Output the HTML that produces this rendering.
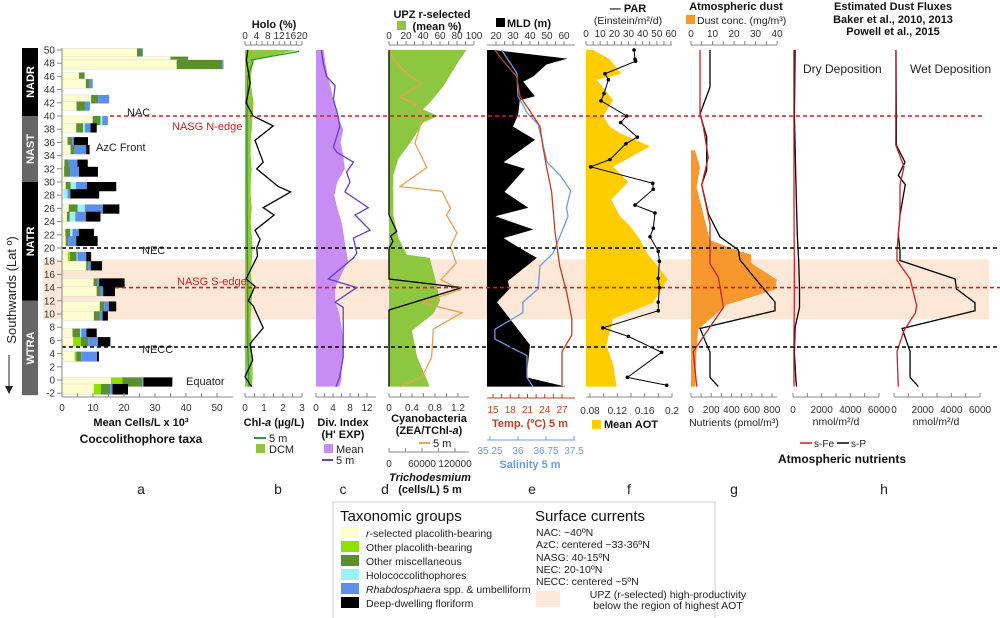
<!DOCTYPE html>
<html><head><meta charset="utf-8"><style>
body{margin:0;background:#fff}
svg{display:block;font-family:"Liberation Sans",sans-serif}
.t{font-size:10px;fill:#222}
.b{font-weight:bold;font-size:11px;fill:#111}
</style></head><body>
<svg id="fig" width="1000" height="618" viewBox="0 0 1000 618">
<g id="bg"></g>
<g id="marks"></g>
<g id="axes"></g>
<g id="labels">
<text class="b" x="274" y="28" text-anchor="middle">Holo (%)</text>
<text class="b" x="432" y="18" text-anchor="middle">UPZ r-selected</text>
<rect x="397" y="21" width="9" height="9" fill="#8dc63f"/>
<text class="b" x="437" y="30" text-anchor="middle">(mean %)</text>
<rect x="496" y="18" width="9" height="9" fill="#000"/>
<text class="b" x="507" y="27">MLD (m)</text>
<text class="b" x="628" y="12" text-anchor="middle">— PAR</text>
<text class="t" x="628" y="24" text-anchor="middle" style="font-size:10.5px">(Einstein/m²/d)</text>
<text class="b" x="736" y="10" text-anchor="middle">Atmospheric dust</text>
<rect x="686" y="15" width="9" height="9" fill="#f7982f"/>
<text class="t" x="697" y="24" style="font-size:10.5px">Dust conc. (mg/m³)</text>
<text class="b" x="893" y="10" text-anchor="middle">Estimated Dust Fluxes</text>
<text class="b" x="893" y="23" text-anchor="middle">Baker et al., 2010, 2013</text>
<text class="b" x="893" y="35" text-anchor="middle">Powell et al., 2015</text>
<text class="t" x="803" y="73" style="font-size:12px">Dry Deposition</text>
<text class="t" x="910" y="73" style="font-size:12px">Wet Deposition</text>
<text class="t" x="127" y="116" style="font-size:11px">NAC</text>
<text x="172" y="130" fill="#d02020" style="font-size:11px">NASG N-edge</text>
<text class="t" x="96" y="151" style="font-size:11px">AzC Front</text>
<text class="t" x="142" y="254" style="font-size:11px">NEC</text>
<text x="177" y="285" fill="#d02020" style="font-size:11px">NASG S-edge</text>
<text class="t" x="142" y="353" style="font-size:11px">NECC</text>
<text class="t" x="186" y="385" style="font-size:11px">Equator</text>
<text class="t" x="16" y="290" transform="rotate(-90 16 290)" text-anchor="middle" style="font-size:13px">Southwards (Lat º)</text>
<line x1="9" y1="355" x2="9" y2="390" stroke="#222"/>
<path d="M5,386 L9,394 L13,386 Z" fill="#222"/>
<text class="b" x="141" y="426" text-anchor="middle">Mean Cells/L x 10³</text>
<text class="b" x="141" y="443" text-anchor="middle" style="font-size:12px">Coccolithophore taxa</text>
<text class="b" x="274" y="426" text-anchor="middle">Chl-<tspan font-style="italic">a</tspan> (µg/L)</text>
<line x1="254" y1="438" x2="266" y2="438" stroke="#2a9a3a" stroke-width="2"/>
<text class="t" x="269" y="442" style="font-size:11px">5 m</text>
<rect x="256" y="444" width="9" height="9" fill="#8dc63f"/>
<text class="t" x="269" y="453" style="font-size:11px">DCM</text>
<text class="b" x="343" y="426" text-anchor="middle">Div. Index</text>
<text class="b" x="343" y="438" text-anchor="middle">(H' EXP)</text>
<rect x="324" y="444" width="9" height="9" fill="#c88cf5"/>
<text class="t" x="336" y="453" style="font-size:11px">Mean</text>
<line x1="322" y1="460" x2="333" y2="460" stroke="#6040d0" stroke-width="2"/>
<text class="t" x="336" y="464" style="font-size:11px">5 m</text>
<text class="b" x="429" y="422" text-anchor="middle">Cyanobacteria</text>
<text class="b" x="429" y="434" text-anchor="middle">(ZEA/TChl-<tspan font-style="italic">a</tspan>)</text>
<line x1="419" y1="443" x2="430" y2="443" stroke="#e0a860" stroke-width="2"/>
<text class="t" x="433" y="447" style="font-size:11px">5 m</text>
<text class="b" x="430" y="481" text-anchor="middle" font-style="italic">Trichodesmium</text>
<text class="b" x="430" y="493" text-anchor="middle">(cells/L) 5 m</text>
<text x="530" y="427" text-anchor="middle" fill="#c0401e" font-weight="bold" style="font-size:11px">Temp. (ºC) 5 m</text>
<text x="530" y="468" text-anchor="middle" fill="#6b9be0" font-weight="bold" style="font-size:11px">Salinity 5 m</text>
<rect x="592" y="420" width="9" height="9" fill="#ffcc00"/>
<text class="b" x="604" y="428">Mean AOT</text>
<text class="t" x="734" y="426" text-anchor="middle" style="font-size:10.5px">Nutrients (pmol/m³)</text>
<text class="t" x="836" y="425" text-anchor="middle" style="font-size:10.5px">nmol/m²/d</text>
<text class="t" x="936" y="425" text-anchor="middle" style="font-size:10.5px">nmol/m²/d</text>
<line x1="800" y1="443" x2="812" y2="443" stroke="#d02020" stroke-width="1.5"/>
<text class="t" x="814" y="447">s-Fe</text>
<line x1="837" y1="443" x2="849" y2="443" stroke="#000" stroke-width="1.5"/>
<text class="t" x="851" y="447">s-P</text>
<text class="b" x="842" y="463" text-anchor="middle" style="font-size:12px">Atmospheric nutrients</text>
<g style="font-size:14px" fill="#222">
<text x="141" y="494" text-anchor="middle">a</text>
<text x="278" y="494" text-anchor="middle">b</text>
<text x="343" y="494" text-anchor="middle">c</text>
<text x="385" y="494" text-anchor="middle">d</text>
<text x="532" y="494" text-anchor="middle">e</text>
<text x="629" y="494" text-anchor="middle">f</text>
<text x="734" y="494" text-anchor="middle">g</text>
<text x="884" y="494" text-anchor="middle">h</text>
</g>
<g>
<rect x="333" y="502" width="382" height="118" fill="#fff" stroke="#ccc"/>
<text x="340" y="521" style="font-size:15px" fill="#111">Taxonomic groups</text>
<text x="535" y="521" style="font-size:15px" fill="#111">Surface currents</text>
<g style="font-size:10.5px" fill="#222">
<rect x="341" y="527" width="18" height="11" fill="#fdfdcf"/>
<text x="366" y="537"><tspan font-style="italic">r</tspan>-selected placolith-bearing</text>
<rect x="341" y="541" width="18" height="11" fill="#8ee000"/>
<text x="366" y="551">Other placolith-bearing</text>
<rect x="341" y="555" width="18" height="11" fill="#5b8f2e"/>
<text x="366" y="565">Other miscellaneous</text>
<rect x="341" y="569" width="18" height="11" fill="#99f0f5"/>
<text x="366" y="579">Holococcolithophores</text>
<rect x="341" y="583" width="18" height="11" fill="#5b8fe8"/>
<text x="366" y="593"><tspan font-style="italic">Rhabdosphaera</tspan> spp. &amp; umbelliform</text>
<rect x="341" y="597" width="18" height="11" fill="#000"/>
<text x="366" y="607">Deep-dwelling floriform</text>
</g>
<g style="font-size:10.5px" fill="#222">
<text x="536" y="536">NAC: ~40ºN</text>
<text x="536" y="548">AzC: centered ~33-36ºN</text>
<text x="536" y="561">NASG: 40-15ºN</text>
<text x="536" y="573">NEC: 20-10ºN</text>
<text x="536" y="585">NECC: centered ~5ºN</text>
<rect x="536" y="591" width="24" height="16" fill="#fde8d8"/>
<text x="668" y="598" text-anchor="middle">UPZ (r-selected) high-productivity</text>
<text x="668" y="609" text-anchor="middle">below the region of highest AOT</text>
</g>
</g>
</g>
</svg>
<script>
// ---------- data ----------
const latTicks=[50,48,46,44,42,40,38,36,34,32,30,28,26,24,22,20,18,16,14,12,10,8,6,4,2,0,-2];
// panel a: stacked bars, cumulative edges (x10^3 cells/L)
const barLatTop=[50.25,49,48.5,46.6,45.6,43.2,42.2,40.0,38.9,36.8,35.6,33.4,32.3,30.0,28.9,26.6,25.5,22.9,21.8,19.4,18.0,15.4,14.2,11.9,10.4,7.8,6.5,4.3,0.4,-0.6];
const barLatBot=[48.9,48.5,47.1,45.4,44.2,41.9,40.8,38.6,37.5,35.4,34.2,32.0,30.8,28.6,27.5,25.2,24.0,21.6,20.3,17.9,16.6,14.0,12.7,10.4,9.0,6.4,5.1,2.8,-1.0,-2.2];
const rSel=[24.2,35,37,5.5,7.7,9.4,4.7,9.9,4.6,1.8,2.8,0.8,0.7,1.2,0.5,2.2,1.6,1.1,1.2,1.9,7.8,10.2,11.2,12.2,10.3,3.4,3.6,4.1,15.8,10.3];
const otherPlac=[24.2,35,37,5.5,7.7,9.4,4.7,9.9,4.6,1.8,2.8,0.8,0.7,1.2,0.5,2.2,1.6,1.1,1.2,2.6,7.8,10.2,11.2,12.2,10.3,3.4,6.1,4.6,19.5,12.5];
const miscCum=[25.8,40.7,51.7,7.3,8.9,11.7,7.4,12.4,6.8,3.3,4.0,2.1,2.6,2.8,0.5,5.0,2.5,2.6,2.0,4.7,8.5,11.5,12.4,13.6,12.1,5.8,8.5,6.2,25.9,15.5];
const holoCum=[25.8,40.7,51.7,7.3,8.9,11.7,7.4,13.0,7.4,3.3,4.0,2.1,2.6,4.5,1.8,7.4,4.3,3.4,2.0,5.0,8.5,11.5,12.4,13.6,12.1,6.2,8.5,6.2,25.9,15.5];
const rhabCum=[26.1,40.7,52.1,7.3,9.9,15.2,9.0,14.8,9.2,3.8,7.8,5.0,5.5,8.0,2.7,13.2,7.7,5.4,4.6,7.8,9.3,12.0,13.3,15.1,13.1,7.9,11.6,11.3,26.3,16.3];
const deepCum=[26.1,40.7,52.1,7.3,9.9,15.2,9.0,14.8,11.2,8.4,8.9,8.3,11.6,17.5,12.0,18.5,12.4,10.3,11.5,9.4,12.9,20.2,17.1,17.5,14.8,11.2,15.6,11.9,35.6,21.3];
// panel b
const holoLat=[50,48.5,45,42,40,38.5,36.3,33,32,29.3,28.5,26.1,25,22.7,21.3,20,18.8,15.3,14.2,12,11.2,7.9,5.5,3,0.5,-1];
const holoPct=[1,0.5,1.8,0.4,2.9,9.9,3.5,6.4,4.1,11.7,16,6.4,10.2,3.5,5.3,4.1,4.4,0.4,3.5,1.2,2.9,6.4,1.8,2.7,0,2.3];
const dcmLat=[50,48.5,47,45,43,42,40,38,36,34,32,30,28,26,24,22,20,18,16,14,12,10,8,6,4,2,0,-1];
const dcmChl=[2.7,0.5,0.35,0.3,0.4,0.45,0.4,0.35,0.3,0.3,0.35,0.3,0.3,0.35,0.3,0.35,0.4,0.35,0.3,0.4,0.35,0.3,0.3,0.35,0.35,0.4,0.4,0.35];
const chlLat=[49.8,48.5,48,46,40,30,20,10,5,0,-1];
const chl5m=[2.85,0.35,0.4,0.15,0.1,0.1,0.12,0.15,0.15,0.2,0.2];
// panel c
const divMeanLat=[50,48,46,44,42,40,38,36,34,32,30,28,26,24,22,20,18,16,14,12,10,8,6,4,2,0,-1];
const divMean=[1.8,2.2,2.8,3.6,4.2,5.0,6.4,5.8,6.4,6.8,5.0,4.3,5.0,6.0,6.5,7.0,7.5,6.0,4.5,4.5,5.5,6.0,6.4,6.4,6.0,6.0,5.5];
const div5Lat=[50,48,46,44.6,42.5,40,38.4,35.3,34.5,33,31.5,30,28.5,26.1,25,22.7,21.5,19.2,18.5,15.3,14,11.8,11,7.5,3.5,0.5,-1];
const div5m=[1.3,1.7,2.5,4.5,4.1,5.2,5.6,4.1,4.9,8.8,7.2,8.0,6.8,12.3,9.2,12.7,8.8,9.6,8.8,2.9,9.6,4.5,6.4,6.4,6.4,5.6,4.7];
// panel d
const upzLat=[50,48.5,46,44.5,42,41,40,39,36.5,33.5,31,25,21.5,19,18.5,15.5,12,10,7.5,3.5,-1];
const upzPct=[91,83,71,64,48,40,58,40,28,11,5,5,11,21,48,54,60,52,27,33,48];
const cyanoLat=[50,48.5,46.4,44.9,42.9,42,40.3,38.4,35.9,32.2,29.3,28.6,26,25,22.3,20.2,17.7,15.2,13.7,11.7,10.2,7.7,3.4,0.4,-1];
const cyano=[0.02,0.08,0.31,0.57,0.19,0.43,0.6,0.54,0.45,0.66,0.19,0.92,1.07,1.0,1.18,1.07,1.17,0.9,1.24,0.57,1.27,0.77,0.74,0.57,0.19];
const trichLat=[50,25,22.5,21.8,21,20,15.3,14,10.6,-1];
const trich=[0,0,14000,3000,7000,0,0,132000,0,0];
// panel e
const mldLat=[50,48.7,47.8,46,45.2,43,42.4,40.2,38.4,36.4,33,32,28.5,26.1,24.8,22.8,21.5,20.3,18.5,15,13.8,11.8,8,5.3,0.4,-1];
const mld=[18.6,62,49.7,42,36,42.9,34,33,30,43,24.5,37,25,39,19.6,42,24.5,32,44,27,28,20.6,32,40,38,61];
const tempLat=[50,47.8,46,43,40,38.4,35.3,32.3,28.5,22.3,17.3,13.3,9.3,6.8,4.3,-1];
const temp=[15.3,17.3,19.1,19.7,22,23.2,23.7,24.3,25.2,25.8,26.6,27.8,28.7,28.7,27,27];
const salLat=[50,46.5,43,40.5,38.7,33,31,28.7,26.1,24.8,19.2,17.3,13.8,11.8,10.2,7.7,6.2,3.7,0.4,-1];
const sal=[35.56,35.97,36.0,36.24,36.54,36.78,37.13,37.41,37.30,37.34,36.94,36.59,36.54,36.13,36.13,35.38,35.38,36.24,36.24,36.4];
// panel f
const aotLat=[50,48.6,46.4,45.5,42.4,40,38.4,37.4,35.4,32.3,30,27.3,24.8,23.3,21.3,19.3,17.3,15.3,11.7,9.3,5.3,2.3,-1];
const aot=[0.085,0.109,0.126,0.090,0.114,0.099,0.109,0.124,0.168,0.114,0.136,0.111,0.124,0.139,0.153,0.163,0.178,0.194,0.172,0.114,0.104,0.114,0.119];
const parLat=[50,48.6,48.3,46.4,45.5,43.4,42.3,40,39,36.8,35.8,33.4,32.3,29.8,28.9,26.5,25.3,23,21.7,19.5,18,15.4,14,11.8,10.5,7.9,6.6,4.2,0.4,-0.8];
const par=[33.9,34.6,35,13.4,15.8,12.7,10.6,28.7,24.5,36.2,28.2,16.9,3.3,47.1,47.5,34.6,48.7,47.5,45.2,51,51.8,51,51.8,51,51,11.8,29.9,53.4,29.2,57];
// panel g
const dustLat=[34.8,32.2,29.2,25.2,21.2,19.7,19,17.7,15.2,13.7,11.4,9.2,7.7,4.7,-0.3,-1];
const dust=[1.9,4.2,2.6,5.7,8.8,21,28,28,39.9,39,16.6,8.8,3.4,2.6,2,2];
const nutFeLat=[50,40.3,38.3,33.7,29.6,23.6,17.6,15.6,11,7.3,4.3,-1];
const nutFe=[89,89,122,171,106,188,188,270,320,155,23,56];
const nutPLat=[50,44.4,40.3,36.8,31.8,29.6,25.2,21.7,19.7,18.2,15.4,11.8,10.5,7.8,4.2,0.4,-1];
const nutP=[188,188,89,155,155,106,171,286,467,484,632,830,830,89,188,188,270];
// panel h
const dryLat=[50,40,30,22,18,14,11,8,4,0,-1];
const dryP=[150,100,200,300,400,450,450,150,100,200,250];
const dryFe=[60,60,70,80,90,90,90,70,60,70,80];
const wetPLat=[50,40,35.6,33,31,29.6,25,22,19.6,18.1,15.3,13.8,11.7,10.5,7.8,4.3,0.4,-1];
const wetP=[140,160,160,770,300,790,420,300,420,420,4260,4350,5650,5650,566,1120,1120,1700];
const wetFeLat=[50,35.6,32.3,29.6,25,19.7,18.1,15.3,11.3,10.2,7.5,4.3,-1];
const wetFe=[130,120,700,420,420,210,210,1120,1580,1500,700,210,300];
// tick labels
const aTicks=[0,10,20,30,40,50], chlTicks=[0,1,2,3], holoTicks=[0,4,8,12,16,20], divTicks=[0,4,8,12];
const cyTicks=[0,0.4,0.8,1.2], trTicks=[0,60000,120000], upzTicks=[0,20,40,60,80,100];
const mldTicks=[20,30,40,50,60], tempTicks=[15,18,21,24,27], salTicks=[35.25,36,36.75,37.5];
const parTicks=[0,10,20,30,40,50,60], aotTicks=[0.08,0.12,0.16,0.2], dustTicks=[0,10,20,30,40];
const nutTicks=[0,200,400,600,800], fluxTicks=[0,2000,4000,6000];

// ---------- scales ----------
const NS='http://www.w3.org/2000/svg';
const Y=l=>50+(50-l)*6.6;
const lin=(d0,d1,r0,r1)=>v=>r0+(v-d0)/(d1-d0)*(r1-r0);
const xA=lin(0,50,62,217), xChl=lin(0,3,245,302), xHolo=lin(0,20,245,302), xDiv=lin(0,12,316,367);
const xUpz=lin(0,100,389,474), xCy=lin(0,1.2,389,458), xTr=lin(0,120000,389,455);
const xMld=lin(20,60,496,564), xT=lin(15,27,493,562), xS=lin(35.25,37.5,490,574);
const xPar=lin(0,60,586,671), xAot=lin(0.08,0.2,590,672), xDust=lin(0,40,691,777), xNut=lin(0,800,691,772);
const xDry=lin(0,6000,793,879), xWet=lin(0,6000,894,980);
function mk(tag,attrs,parent){const e=document.createElementNS(NS,tag);for(const k in attrs)e.setAttribute(k,attrs[k]);document.getElementById(parent).appendChild(e);return e;}
function lineD(lats,vals,sx){return lats.map((l,i)=>(i?'L':'M')+sx(vals[i]).toFixed(1)+','+Y(l).toFixed(1)).join('');}
function areaD(lats,vals,sx,x0){return 'M'+x0+','+Y(lats[0]).toFixed(1)+lats.map((l,i)=>'L'+sx(vals[i]).toFixed(1)+','+Y(l).toFixed(1)).join('')+'L'+x0+','+Y(lats[lats.length-1]).toFixed(1)+'Z';}

// ---------- background ----------
let e=mk('rect',{x:43,y:Y(18.3),width:946,height:Y(9.2)-Y(18.3),fill:'#fde8d8'},'bg');


const regions=[['NADR',50.3,40,'#000'],['NAST',40,30,'#666'],['NATR',30,12,'#000'],['WTRA',12,-2.3,'#666']];
regions.forEach(r=>{
 const y0=Y(r[1]),y1=Y(r[2]);
 e=mk('rect',{x:22,y:y0,width:16,height:y1-y0,fill:r[3]},'bg');
 
 
 const cy=(y0+y1)/2;
 e=mk('text',{x:30,y:cy+4,transform:'rotate(-90 30 '+cy+')','text-anchor':'middle',fill:'#fff','font-weight':'bold','font-size':'11'},'bg');
 e.textContent=r[0];
 
 
});

// ---------- panel a bars ----------
const segs=[[rSel,'#fdfdcf'],[otherPlac,'#8ee000'],[miscCum,'#5b8f2e'],[holoCum,'#99f0f5'],[rhabCum,'#5b8fe8'],[deepCum,'#000']];
barLatTop.forEach((lt,i)=>{
 const y0=Y(lt),h=Y(barLatBot[i])-y0;let prev=0;
 segs.forEach((s,j)=>{
  const v=s[0][i];if(v>prev){
   e=mk('rect',{x:xA(prev),y:y0,width:xA(v)-xA(prev),height:h,fill:s[1],stroke:j==0?'#ddd':'none','stroke-width':0.5},'marks');
   
   
   prev=v;}
 });
});
// ---------- profiles ----------
function area(lats,vals,sx,x0,fill,name){e=mk('path',{d:areaD(lats,vals,sx,x0),fill:fill},'marks');
 
 }
function line(lats,vals,sx,col,name,w){e=mk('path',{d:lineD(lats,vals,sx),fill:'none',stroke:col,'stroke-width':w||1.3},'marks');
 
 }
area(dcmLat,dcmChl,xChl,245,'#8dc63f','dcm-area');
line(chlLat,chl5m,xChl,'#2a9a3a','chl-5m-line');
line(holoLat,holoPct,xHolo,'#000','holo-line');
area(divMeanLat,divMean,xDiv,316,'#c88cf5','div-mean-area');
line(div5Lat,div5m,xDiv,'#6040d0','div-5m-line');
area(upzLat,upzPct,xUpz,389,'#8dc63f','upz-area');
line(cyanoLat,cyano,xCy,'#e8a050','cyano-line');
line(trichLat,trich,xTr,'#000','trich-line');
area(mldLat,mld,xMld,487,'#000','mld-area');
line(salLat,sal,xS,'#6b9be0','salinity-line');
line(tempLat,temp,xT,'#c0401e','temp-line');
area(aotLat,aot,xAot,586,'#ffcc00','aot-area');
line(parLat,par,xPar,'#000','par-line',1);
parLat.forEach((l,i)=>{e=mk('circle',{cx:xPar(par[i]),cy:Y(l),r:1.8,fill:'#000'},'marks');
 
 });
area(dustLat,dust,xDust,691,'#f7982f','dust-area');
line(nutPLat,nutP,xNut,'#000','nut-sp-line');
line(nutFeLat,nutFe,xNut,'#d02020','nut-sfe-line');
line(dryLat,dryP,xDry,'#000','dry-sp-line');
line(dryLat,dryFe,xDry,'#d02020','dry-sfe-line');
line(wetPLat,wetP,xWet,'#000','wet-sp-line');
line(wetFeLat,wetFe,xWet,'#d02020','wet-sfe-line');
// dashed current lines
[[40,110,985,'#d02020','nac-line'],[20,62,1000,'#000','nec-line'],[14,115,1000,'#d02020','nasg-s-line'],[5,62,1000,'#000','necc-line']].forEach(d=>{
 e=mk('line',{x1:d[1],x2:d[2],y1:Y(d[0]),y2:Y(d[0]),stroke:d[3],'stroke-width':1.6,'stroke-dasharray':'4,3'},'marks');
 
 
});
// ---------- axes ----------
function hAxis(x0,x1,y,ticks,sx,up,col,ly,name,minor){
 const g=mk('g',{},'axes');
 
 
 const c=col||'#888';
 e=mk('line',{x1:x0,x2:x1,y1:y,y2:y,stroke:c},'axes');
 
 
 const all=[];ticks.forEach((t,i)=>{all.push(t);if(minor&&i<ticks.length-1)all.push((t+ticks[i+1])/2);});
 all.forEach(t=>{e=mk('line',{x1:sx(t),x2:sx(t),y1:y,y2:y-(up?4:-4),stroke:c},'axes');
  
  });
 ticks.forEach(t=>{e=mk('text',{x:sx(t),y:ly,'text-anchor':'middle','font-size':'10',fill:col&&col!='#888'?col:'#333'},'axes');
  e.textContent=String(t);
  
  });
}
// left lat axis
e=mk('line',{x1:62,x2:62,y1:Y(50.3),y2:Y(-2.3),stroke:'#888'},'axes');


latTicks.forEach(l=>{e=mk('line',{x1:57,x2:62,y1:Y(l),y2:Y(l),stroke:'#888'},'axes');
 
 
 e=mk('text',{x:55,y:Y(l)+3.5,'text-anchor':'end','font-size':'10',fill:'#333'},'axes');
 e.textContent=String(l);
 
 });
hAxis(62,233,397,aTicks,xA,true,null,411,'a-x-axis',true);
hAxis(245,302,397,chlTicks,xChl,true,null,411,'chl-axis',true);
hAxis(316,376,397,divTicks,xDiv,true,null,411,'div-axis',true);
hAxis(389,469,397,cyTicks,xCy,true,null,411,'cyano-axis',true);
hAxis(389,469,452,trTicks,xTr,true,null,467,'trich-axis',true);
hAxis(487,575,398,tempTicks,xT,true,'#c0401e',413,'temp-axis',true);
hAxis(487,575,440,salTicks,xS,true,'#6b9be0',454,'sal-axis',false);
hAxis(586,672,397,aotTicks,xAot,true,null,414,'aot-axis',true);
hAxis(691,777,397,nutTicks,xNut,true,null,413,'nut-axis',true);
hAxis(793,879,397,fluxTicks,xDry,true,null,413,'dry-axis',true);
hAxis(894,980,397,fluxTicks,xWet,true,null,413,'wet-axis',true);
hAxis(245,302,45,holoTicks,xHolo,true,null,39,'holo-axis',true);
hAxis(389,474,45,upzTicks,xUpz,true,null,39,'upz-axis',true);
hAxis(487,575,45,mldTicks,xMld,true,null,39,'mld-axis',true);
hAxis(586,672,45,parTicks,xPar,true,null,37,'par-axis',true);
hAxis(691,777,45,dustTicks,xDust,true,null,37,'dust-axis',true);
</script>
</body></html>
